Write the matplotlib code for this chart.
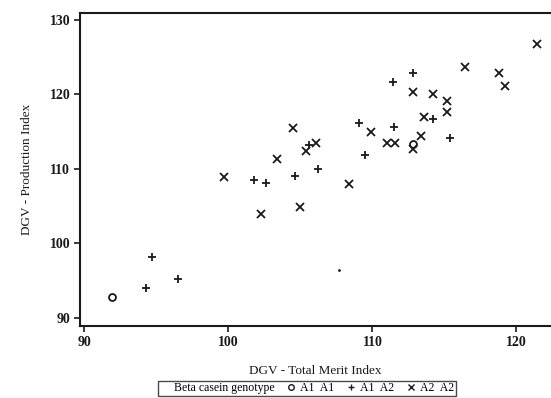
import matplotlib
matplotlib.use('Agg')
from matplotlib import pyplot as plt
from matplotlib.lines import Line2D

# DGV values, one list pair per genotype
a1a1_tmi = [91.9, 112.8]
a1a1_pi = [92.8, 113.3]

a1a2_tmi = [94.3, 94.7, 96.5, 101.8, 102.6, 104.6, 106.2, 105.6, 109.1,
            111.4, 111.5, 112.8, 114.2, 115.4, 109.5]
a1a2_pi = [94.0, 98.1, 95.2, 108.5, 108.1, 109.0, 110.0, 113.2, 116.2,
           121.6, 115.6, 122.9, 116.7, 114.2, 111.8]

a2a2_tmi = [99.7, 102.3, 103.4, 104.5, 105.0, 105.4, 106.1, 108.4, 109.9,
            111.0, 111.6, 112.8, 112.8, 113.4, 113.6, 114.2, 115.2, 115.2,
            116.4, 118.8, 119.2, 121.4]
a2a2_pi = [108.9, 103.9, 111.3, 115.5, 104.9, 112.4, 113.5, 108.0, 114.9,
           113.5, 113.5, 120.3, 112.7, 114.4, 116.9, 120.0, 119.1, 117.6,
           123.7, 122.9, 121.1, 126.8]

# one barely printed point (only a dot survives in the scan)
faint_tmi = [107.7]
faint_pi = [96.4]

x_ticks = [90, 100, 110, 120]
y_ticks = [90, 100, 110, 120, 130]

plt.rcParams['font.family'] = ['Liberation Serif', 'DejaVu Serif']
ink = '#1a1a1a'

fig = plt.figure(figsize=(5.51, 3.98), dpi=100)
ax = fig.add_axes([0.1452, 0.181, 0.8548, 0.786])

ax.plot(a1a1_tmi, a1a1_pi, ls='none', marker='o', ms=5, mfc='none',
        mec=ink, mew=1.3)
ax.plot(a1a2_tmi, a1a2_pi, ls='none', marker='+', ms=6, mec=ink, mew=1.3)
ax.plot(a2a2_tmi, a2a2_pi, ls='none', marker='x', ms=5.5, mec=ink, mew=1.3)
ax.plot(faint_tmi, faint_pi, ls='none', marker='.', ms=2, mec=ink, mfc=ink)

ax.set_xlim(89.7, 122.4)
ax.set_ylim(88.9, 130.9)
ax.set_xticks(x_ticks)
ax.set_yticks(y_ticks)
ax.tick_params(direction='out', length=4, width=1.2, colors=ink,
               labelsize=10, pad=3)
for lab in ax.get_xticklabels() + ax.get_yticklabels():
    lab.set_fontweight('bold')

for side in ['left', 'bottom', 'top']:
    ax.spines[side].set_linewidth(1.5)
    ax.spines[side].set_color(ink)
ax.spines['right'].set_visible(False)

ax.set_xlabel('DGV - Total Merit Index', fontsize=9.5, color=ink, labelpad=12)
ax.set_ylabel('DGV - Production Index', fontsize=9.5, color=ink, labelpad=12)

# Legend with the genotype title sitting inline, like the original
handles = [
    Line2D([], [], ls='none'),
    Line2D([], [], ls='none', marker='o', ms=4, mfc='none', mec=ink, mew=1),
    Line2D([], [], ls='none', marker='+', ms=5, mec=ink, mew=1),
    Line2D([], [], ls='none', marker='x', ms=4, mec=ink, mew=1),
]
labels = ['Beta casein genotype', 'A1  A1', 'A1  A2', 'A2  A2']
leg = fig.legend(handles, labels, loc='center', bbox_to_anchor=(0.557, 0.024),
                 ncol=4, fontsize=8.5, frameon=True, fancybox=False,
                 handlelength=0.8, handletextpad=0.4, columnspacing=1.0,
                 borderpad=0.1, borderaxespad=0)
leg.get_frame().set_edgecolor(ink)
leg.get_frame().set_linewidth(1.0)

fig.savefig('out.png', dpi=100)
